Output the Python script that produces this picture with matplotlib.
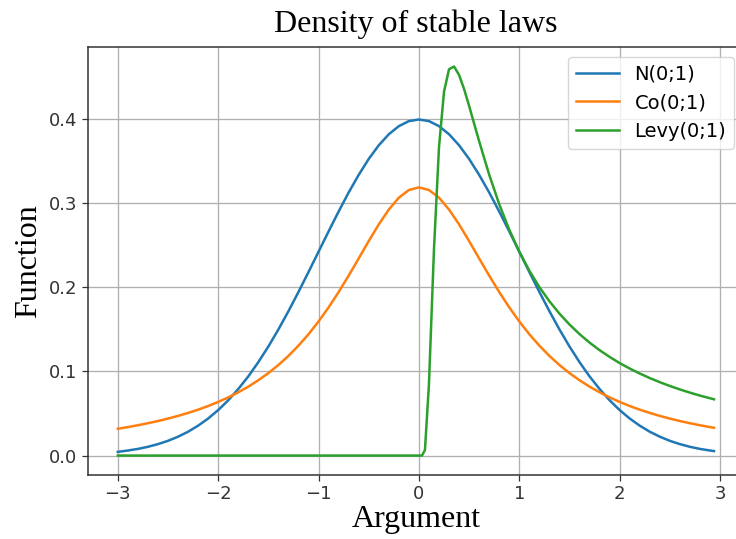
#!/usr/bin/env python3
"""Density of stable laws: normal, Cauchy and Levy densities on [-3, 3]."""
import matplotlib
matplotlib.use('Agg')
import matplotlib.pyplot as plt

# shared grid for N(0;1) and Co(0;1)
x = [-3.0, -2.9, -2.8, -2.7, -2.6, -2.5, -2.4, -2.3, -2.2, -2.1,
     -2.0, -1.9, -1.8, -1.7, -1.6, -1.5, -1.4, -1.3, -1.2, -1.1,
     -1.0, -0.9, -0.8, -0.7, -0.6, -0.5, -0.4, -0.3, -0.2, -0.1,
     0.0, 0.1, 0.2, 0.3, 0.4, 0.5, 0.6, 0.7, 0.8, 0.9,
     1.0, 1.1, 1.2, 1.3, 1.4, 1.5, 1.6, 1.7, 1.8, 1.9,
     2.0, 2.1, 2.2, 2.3, 2.4, 2.5, 2.6, 2.7, 2.8, 2.9, 2.94]

normal = [0.0044, 0.0060, 0.0079, 0.0104, 0.0136, 0.0175, 0.0224, 0.0283, 0.0355, 0.0440,
          0.0540, 0.0656, 0.0790, 0.0940, 0.1109, 0.1295, 0.1497, 0.1714, 0.1942, 0.2179,
          0.2420, 0.2661, 0.2897, 0.3123, 0.3332, 0.3521, 0.3683, 0.3814, 0.3910, 0.3970,
          0.3989, 0.3970, 0.3910, 0.3814, 0.3683, 0.3521, 0.3332, 0.3123, 0.2897, 0.2661,
          0.2420, 0.2179, 0.1942, 0.1714, 0.1497, 0.1295, 0.1109, 0.0940, 0.0790, 0.0656,
          0.0540, 0.0440, 0.0355, 0.0283, 0.0224, 0.0175, 0.0136, 0.0104, 0.0079, 0.0060, 0.0053]

cauchy = [0.0318, 0.0338, 0.0360, 0.0384, 0.0410, 0.0439, 0.0471, 0.0506, 0.0545, 0.0588,
          0.0637, 0.0690, 0.0751, 0.0818, 0.0894, 0.0979, 0.1075, 0.1183, 0.1305, 0.1440,
          0.1592, 0.1759, 0.1941, 0.2136, 0.2340, 0.2546, 0.2744, 0.2920, 0.3061, 0.3152,
          0.3183, 0.3152, 0.3061, 0.2920, 0.2744, 0.2546, 0.2340, 0.2136, 0.1941, 0.1759,
          0.1592, 0.1440, 0.1305, 0.1183, 0.1075, 0.0979, 0.0894, 0.0818, 0.0751, 0.0690,
          0.0637, 0.0588, 0.0545, 0.0506, 0.0471, 0.0439, 0.0410, 0.0384, 0.0360, 0.0338, 0.0330]

# Levy is zero for x <= 0, then a sharp peak near x = 1/3
levy_x = [-3.0, 0.0, 0.03, 0.06, 0.1, 0.15, 0.2, 0.25, 0.3, 0.35, 0.4, 0.45, 0.5, 0.55,
          0.6, 0.7, 0.8, 0.9, 1.0, 1.1, 1.2, 1.3, 1.4, 1.5, 1.6, 1.7, 1.8, 1.9,
          2.0, 2.1, 2.2, 2.3, 2.4, 2.5, 2.6, 2.7, 2.8, 2.94]
levy = [0.0, 0.0, 0.0, 0.0065, 0.0850, 0.2449, 0.3661, 0.4319, 0.4586, 0.4618, 0.4518,
        0.4350, 0.4151, 0.3940, 0.3731, 0.3334, 0.2984, 0.2681, 0.2420, 0.2195, 0.2000,
        0.1832, 0.1685, 0.1556, 0.1442, 0.1341, 0.1251, 0.1171, 0.1098, 0.1033, 0.0974,
        0.0920, 0.0871, 0.0826, 0.0785, 0.0747, 0.0712, 0.0668]

serif = ['Liberation Serif', 'DejaVu Serif']

fig = plt.figure(figsize=(7.36, 5.39), dpi=100)
ax = fig.add_axes([0.1196, 0.1187, 0.891, 0.794])

ax.plot(x, normal, color='tab:blue', linewidth=1.8, label='N(0;1)')
ax.plot(x, cauchy, color='tab:orange', linewidth=1.8, label='Co(0;1)')
ax.plot(levy_x, levy, color='tab:green', linewidth=1.8, label='Levy(0;1)')

ax.grid(True, color='#b0b0b0', linewidth=0.95)
ax.set_xticks([-3, -2, -1, 0, 1, 2, 3])
ax.set_yticks([0.0, 0.1, 0.2, 0.3, 0.4])
ax.tick_params(labelsize=13, length=4, width=0.9, colors='#333333', labelcolor='#333333')
for sp in ax.spines.values():
    sp.set_linewidth(1.1)
    sp.set_color('#333333')

ax.set_title('Density of stable laws', family=serif, fontsize=23, pad=11)
ax.set_xlabel('Argument', family=serif, fontsize=23, labelpad=1)
ax.set_ylabel('Function', family=serif, fontsize=23, labelpad=4)
ax.legend(loc='upper right', fontsize=14, handlelength=2.2)

fig.savefig('out.png', dpi=100)
plt.close(fig)
